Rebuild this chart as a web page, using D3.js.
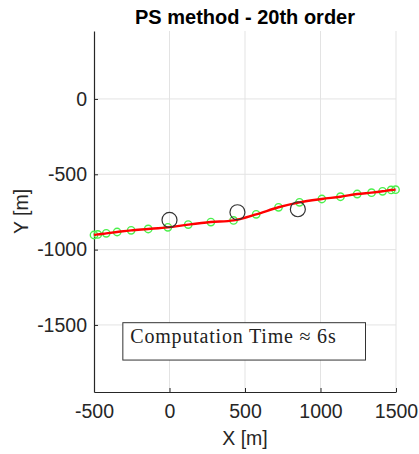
<!DOCTYPE html>
<html>
<head>
<meta charset="utf-8">
<script src="https://cdn.jsdelivr.net/npm/d3@7"></script>
<style>
  body { margin: 0; background: #fff; }
  text { font-family: "Liberation Sans", Arial, sans-serif; fill: #262626; }
</style>
</head>
<body>
<div id="chart"></div>
<script>
// collocation points of the trajectory
let pathX = [-500, -475, -419, -347, -254, -141, -11, 124, 274, 424, 574, 722, 861, 1009, 1132, 1243, 1338, 1411, 1468, 1497];
let pathY = [-903, -899, -892, -883, -872, -863, -852, -834, -817, -806, -766, -719, -686, -664, -649, -631, -622, -613, -604, -602];

// waypoints
let wpX = [0, 450, 850];
let wpY = [-803, -752, -732];

let xTicks = [-500, 0, 500, 1000, 1500];
let yTicks = [0, -500, -1000, -1500];

let titleText = "PS method - 20th order";
let noteText = "Computation Time \u2248 6s";

let W = 419, H = 454;
let margin = {top: 31, right: 23, bottom: 62, left: 94};
let width = W - margin.left - margin.right,
    height = H - margin.top - margin.bottom;

let svg = d3.select("#chart")
  .append("svg")
  .attr("width", W)
  .attr("height", H);

let g = svg.append("g")
  .attr("transform", "translate(" + margin.left + "," + margin.top + ")");

let x = d3.scaleLinear()
  .domain([-500, 1500])
  .range([0, width]);

let y = d3.scaleLinear()
  .domain([-1945, 451])
  .range([height, 0]);

// grid
g.append("g")
  .selectAll("line")
  .data(xTicks.slice(1))
  .enter().append("line")
    .attr("x1", d => x(d)).attr("x2", d => x(d))
    .attr("y1", 0).attr("y2", height)
    .style("stroke", "#e3e3e3");

g.append("g")
  .selectAll("line")
  .data(yTicks)
  .enter().append("line")
    .attr("x1", 0).attr("x2", width)
    .attr("y1", d => y(d)).attr("y2", d => y(d))
    .style("stroke", "#e3e3e3");

// axes, ticks pointing inward, plain hyphen minus
let fmt = d => String(d);
let xAxis = g.append("g")
  .attr("transform", "translate(0," + height + ")")
  .call(d3.axisBottom(x).tickValues(xTicks).tickFormat(fmt).tickSizeInner(-4).tickSizeOuter(0).tickPadding(12));

let yAxis = g.append("g")
  .call(d3.axisLeft(y).tickValues(yTicks).tickFormat(fmt).tickSizeInner(-4).tickSizeOuter(0).tickPadding(7));

[xAxis, yAxis].forEach(a => {
  a.select(".domain").style("stroke", "#262626").style("stroke-width", 1.2);
  a.selectAll(".tick line").style("stroke", "#262626");
  a.selectAll(".tick text")
    .style("font-family", "Liberation Sans, Arial, sans-serif")
    .style("font-size", "19.5px")
    .style("fill", "#262626");
});

// note box
let box = g.append("g");
box.append("rect")
  .attr("x", x(-309))
  .attr("y", y(-1485))
  .attr("width", x(1298) - x(-309))
  .attr("height", y(-1733) - y(-1485))
  .style("fill", "#fff")
  .style("stroke", "#333")
  .style("stroke-width", 1);
box.append("text")
  .attr("x", x(-309) + 7.5)
  .attr("y", y(-1485) + 20.5)
  .style("font-family", "Liberation Serif, Times New Roman, serif")
  .style("font-size", "20px")
  .style("letter-spacing", "0.8px")
  .style("fill", "#222")
  .text(noteText);

let pts = pathX.map((d, i) => [d, pathY[i]]);

// green collocation markers
g.append("g")
  .selectAll("circle")
  .data(pts)
  .enter().append("circle")
    .attr("cx", d => x(d[0]))
    .attr("cy", d => y(d[1]))
    .attr("r", 3.7)
    .style("fill", "none")
    .style("stroke", "#4cf04c")
    .style("stroke-width", 1.4);

// red trajectory
let line = d3.line()
  .x(d => x(d[0]))
  .y(d => y(d[1]))
  .curve(d3.curveCatmullRom);

g.append("path")
  .datum(pts)
  .attr("d", line)
  .style("fill", "none")
  .style("stroke", "#ff0000")
  .style("stroke-width", 2.4);

// waypoints
g.append("g")
  .selectAll("circle")
  .data(wpX.map((d, i) => [d, wpY[i]]))
  .enter().append("circle")
    .attr("cx", d => x(d[0]))
    .attr("cy", d => y(d[1]))
    .attr("r", 7.5)
    .style("fill", "none")
    .style("stroke", "#333")
    .style("stroke-width", 1.2);

// title and labels
svg.append("text")
  .attr("x", margin.left + width / 2)
  .attr("y", 24)
  .attr("text-anchor", "middle")
  .style("font-size", "20px")
  .style("font-weight", "bold")
  .style("fill", "#000")
  .text(titleText);

svg.append("text")
  .attr("x", margin.left + width / 2)
  .attr("y", 445)
  .attr("text-anchor", "middle")
  .style("font-size", "19.5px")
  .text("X [m]");

svg.append("text")
  .attr("transform", "translate(28," + (margin.top + height / 2) + ") rotate(-90)")
  .attr("text-anchor", "middle")
  .style("font-size", "19.5px")
  .text("Y [m]");
</script>
</body>
</html>
